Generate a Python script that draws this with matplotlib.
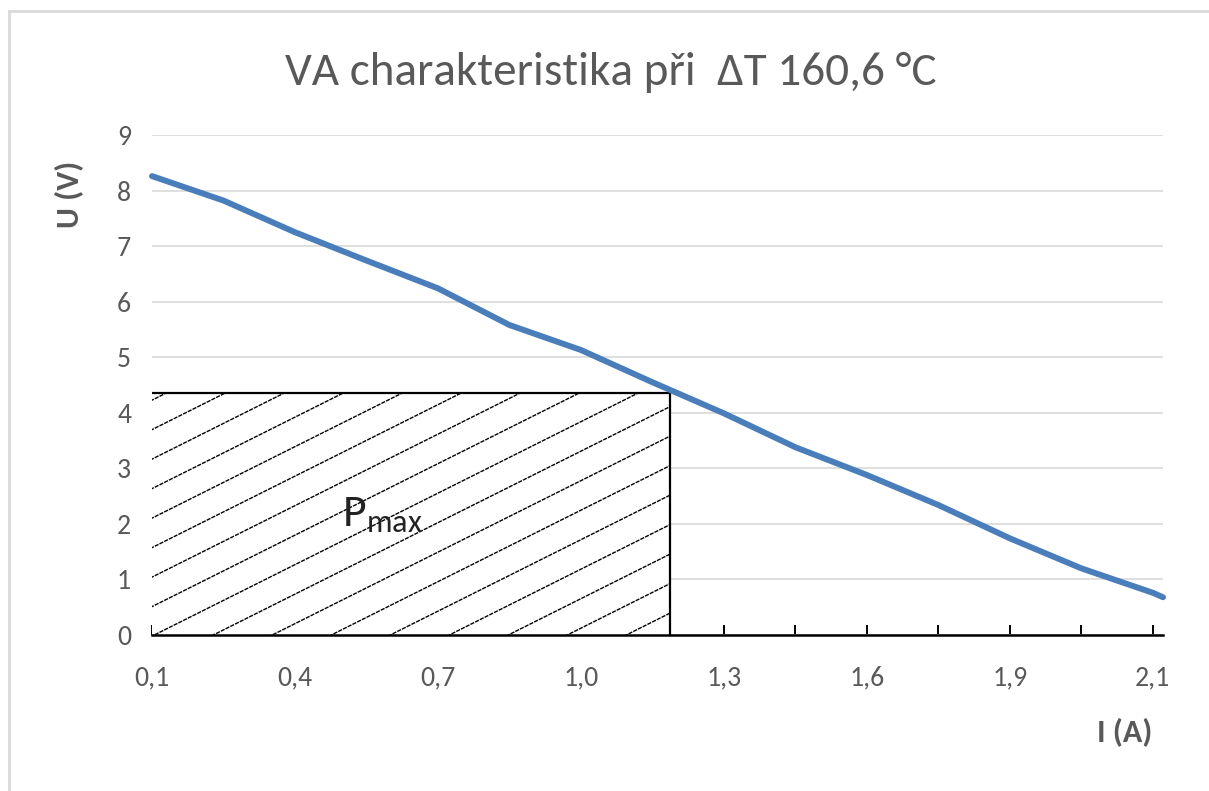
import matplotlib
matplotlib.use('Agg')
import matplotlib.pyplot as plt
from matplotlib import font_manager
from matplotlib.patches import Rectangle
from matplotlib.lines import Line2D
import numpy as np

# Font podobny Calibri (pokud je k dispozici)
names = {f.name for f in font_manager.fontManager.ttflist}
calib = [n for n in ['Carlito', 'Liberation Sans Narrow', 'Open Sans'] if n in names]
plt.rcParams['font.family'] = calib + ['DejaVu Sans']
plt.rcParams['mathtext.fontset'] = 'custom'
plt.rcParams['mathtext.rm'] = 'Liberation Sans'

# Data - osa x je kategorie (100 bodu, popisky po 14)
cat_idx = [0, 7, 14, 21, 28, 35, 42, 49, 56, 63, 70, 77, 84, 91, 98, 99]
u_values = [8.26, 7.82, 7.25, 6.74, 6.24, 5.58, 5.13, 4.55, 3.99, 3.38, 2.88, 2.34, 1.74, 1.20, 0.76, 0.68]
label_idx = [0, 14, 28, 42, 56, 70, 84, 98]
tick_labels = ['0,1', '0,4', '0,7', '1,0', '1,3', '1,6', '1,9', '2,1']
minor_idx = [7, 21, 35, 49, 63, 77, 91]
y_ticks = [0, 1, 2, 3, 4, 5, 6, 7, 8, 9]

# Obdelnik P_max
pmax_idx = 50.7
pmax_u = 4.35

gray = '#595959'
fig = plt.figure(figsize=(12.09, 7.91), dpi=100)
ax = fig.add_axes([152 / 1209, 1 - 635 / 791, (1163 - 152) / 1209, (635 - 135) / 791])

ax.set_xlim(0, 99)
ax.set_ylim(0, 9)

# mrizka
ax.set_yticks(y_ticks)
ax.yaxis.grid(True, color='#d9d9d9', linewidth=1.2)
ax.set_axisbelow(True)
for s in ['top', 'right', 'left']:
    ax.spines[s].set_visible(False)
ax.spines['bottom'].set_linewidth(1.8)
ax.spines['bottom'].set_zorder(6)

ax.set_xticks(label_idx)
ax.set_xticklabels(tick_labels)
ax.set_xticks(minor_idx, minor=True)
ax.tick_params(axis='x', which='both', direction='in', length=7, width=1.4, color='black',
               pad=22, labelsize=20, labelcolor=gray)
ax.tick_params(axis='y', length=0, pad=15, labelsize=20, labelcolor=gray)

# srafovana plocha
rect = Rectangle((0, 0), pmax_idx, pmax_u, facecolor='white', edgecolor='none', zorder=2)
ax.add_patch(rect)
bbox = ax.get_position()
px_per_idx = bbox.width * 1209 / 99
px_per_u = bbox.height * 791 / 9
slope = 0.50 * px_per_idx / px_per_u
step = 59 / px_per_idx
xs = np.array([-60, 160])
start = 6.0 - step * 20
for k in range(60):
    x0 = start + k * step
    ln, = ax.plot(xs, slope * (xs - x0), color='black', linewidth=1.0,
                  linestyle=(0, (3, 0.8)), zorder=3)
    ln.set_clip_path(rect)
ax.plot([0, pmax_idx, pmax_idx], [pmax_u, pmax_u, 0], color='black', linewidth=1.6, zorder=4)

# VA charakteristika
ax.plot(cat_idx, u_values, color='#4a7ebb', linewidth=4.3, solid_capstyle='round',
        solid_joinstyle='round', zorder=5, clip_on=False)

ax.text(18.6, 1.95, r'$\mathregular{P_{max}}$', fontsize=33, color='#222222', zorder=6)

# popisky
fig.text(611 / 1209, 1 - 72 / 791, 'VA charakteristika při  ΔT 160,6 °C', ha='center', va='center',
         fontsize=34, color=gray)
fig.text(70 / 1209, 1 - 194 / 791, 'U (V)', rotation=90, ha='center', va='center',
         fontsize=23, fontweight='bold', color=gray)
fig.text(1125 / 1209, 1 - 733 / 791, 'I (A)', ha='center', va='center',
         fontsize=23, fontweight='bold', color=gray)

# ramecek grafu
fig.add_artist(Line2D([9 / 1209, 1], [1 - 11 / 791, 1 - 11 / 791], color='#d9d9d9', linewidth=2))
fig.add_artist(Line2D([9 / 1209, 9 / 1209], [0, 1 - 11 / 791], color='#d9d9d9', linewidth=2))

fig.savefig('out.png', dpi=100)
